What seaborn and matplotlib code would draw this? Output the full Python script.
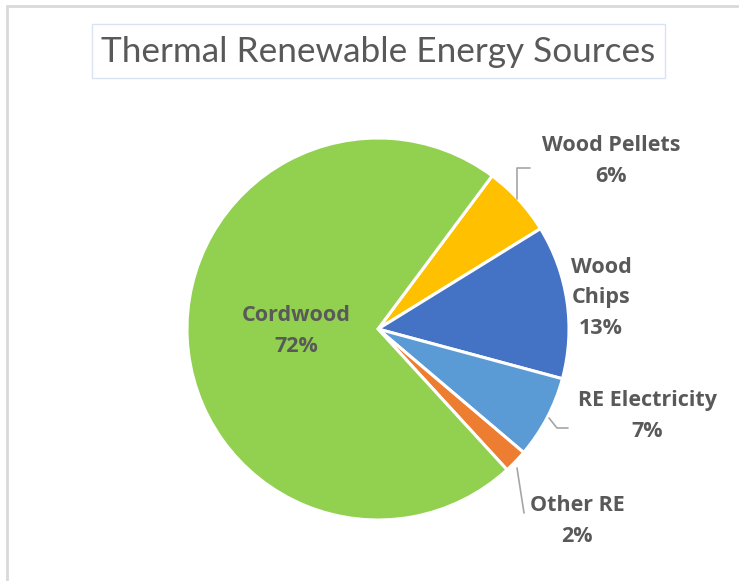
import matplotlib
matplotlib.use("Agg")
import matplotlib.pyplot as plt
import seaborn as sns
from matplotlib.patches import Rectangle

sns.set_theme(style="white")
plt.rcParams['font.family'] = ['Open Sans', 'DejaVu Sans']

categories = ["Wood Pellets", "Wood Chips", "RE Electricity", "Other RE", "Cordwood"]
values = [6, 13, 7, 2, 72]
label_texts = ["Wood Pellets\n6%", "Wood\nChips\n13%", "RE Electricity\n7%", "Other RE\n2%", "Cordwood\n72%"]
colors = ["#FFC000", "#4472C4", "#5B9BD5", "#ED7D31", "#92D050"]

W, H = 739, 581
fig = plt.figure(figsize=(W / 100, H / 100), dpi=100)
ax = fig.add_axes([0, 0, 1, 1])

cx, cy, r = 378, H - 329, 191
ax.pie(values, colors=colors, startangle=90 - 36.7, counterclock=False,
       center=(cx, cy), radius=r, frame=True,
       wedgeprops=dict(edgecolor="white", linewidth=2.2))
ax.set_xlim(0, W)
ax.set_ylim(0, H)
ax.axis("off")

tc = "#595959"
lc = "#A6A6A6"
pos = {
    "Wood Pellets": (611, H - 161),
    "Wood Chips": (601, H - 298),
    "RE Electricity": (647, H - 416),
    "Other RE": (577, H - 521),
    "Cordwood": (296, H - 331),
}
for cat, txt in zip(categories, label_texts):
    x, y = pos[cat]
    ax.text(x, y, txt, ha="center", va="center", fontsize=15.5, fontweight="bold",
            color=tc, linespacing=1.58)

# leader lines
ax.plot([517, 517, 530], [H - 199, H - 168, H - 168], color=lc, lw=1.2)
ax.plot([549, 557, 568], [H - 418, H - 428, H - 428], color=lc, lw=1.2)
ax.plot([517, 524], [H - 468, H - 513], color=lc, lw=1.2)

# title box
ax.add_patch(Rectangle((92, H - 78), 573, 54, facecolor="white", edgecolor="#DAE3F3", lw=1.0))
ax.text(378, H - 52, "Thermal Renewable Energy Sources", ha="center", va="center",
        fontsize=25.3, color=tc, family=['Lato', 'DejaVu Sans'])

# outer border
ax.plot([7, 7], [0, H - 6], color="#D9D9D9", lw=2)
ax.plot([7, W], [H - 6, H - 6], color="#D9D9D9", lw=2)

fig.savefig("out.png", dpi=100)
